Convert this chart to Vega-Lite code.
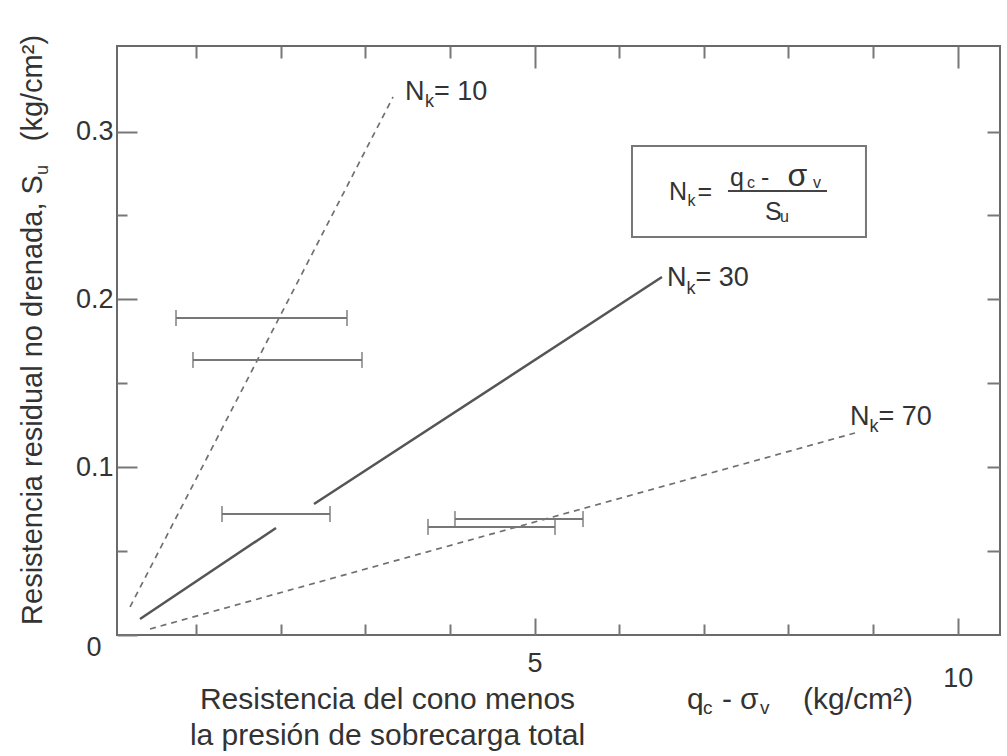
{
  "$schema": "https://vega.github.io/schema/vega-lite/v6.json",
  "width": 883,
  "height": 589,
  "autosize": {"type": "none"},
  "padding": {"left": 117, "top": 46, "right": 7, "bottom": 121},
  "background": "white",
  "config": {
    "view": {"stroke": "#6a6a6a", "strokeWidth": 2},
    "axis": {"domain": false, "grid": false, "labelFont": "Liberation Sans", "labelFontSize": 27, "labelColor": "#333333", "tickColor": "#777777", "tickWidth": 2},
    "text": {"font": "Liberation Sans", "color": "#333333"}
  },
  "datasets": {
    "lines": [
      {"series": "N10", "seg": "a", "x": 0.219, "y": 0.0167},
      {"series": "N10", "seg": "a", "x": 3.327, "y": 0.3206},
      {"series": "N30", "seg": "a", "x": 0.337, "y": 0.0095},
      {"series": "N30", "seg": "a", "x": 1.944, "y": 0.0638},
      {"series": "N30", "seg": "b", "x": 2.393, "y": 0.0781},
      {"series": "N30", "seg": "b", "x": 6.505, "y": 0.2133},
      {"series": "N70", "seg": "a", "x": 0.455, "y": 0.0036},
      {"series": "N70", "seg": "a", "x": 8.786, "y": 0.1204}
    ],
    "bars": [
      {"lo": 0.762, "hi": 2.783, "y": 0.1889},
      {"lo": 0.963, "hi": 2.96, "y": 0.1639},
      {"lo": 1.306, "hi": 2.582, "y": 0.0721},
      {"lo": 4.059, "hi": 5.572, "y": 0.0691},
      {"lo": 3.74, "hi": 5.241, "y": 0.0644}
    ],
    "box": [{"x1": 6.151, "x2": 8.916, "y1": 0.2914, "y2": 0.2372}],
    "frac": [{"x1": 7.285, "x2": 8.456, "y": 0.2646}],
    "texts": [
      {"kind": "nk", "x": 3.468, "y": 0.3188, "text": "N"},
      {"kind": "nk", "x": 3.811, "y": 0.3188, "text": "= 10"},
      {"kind": "nk", "x": 6.565, "y": 0.208, "text": "N"},
      {"kind": "nk", "x": 6.901, "y": 0.208, "text": "= 30"},
      {"kind": "nk", "x": 8.727, "y": 0.1251, "text": "N"},
      {"kind": "nk", "x": 9.064, "y": 0.1251, "text": "= 70"},
      {"kind": "nk_sub", "x": 3.705, "y": 0.3147, "text": "k"},
      {"kind": "nk_sub", "x": 6.795, "y": 0.2032, "text": "k"},
      {"kind": "nk_sub", "x": 8.958, "y": 0.121, "text": "k"},
      {"kind": "f", "x": 6.588, "y": 0.2592, "text": "N"},
      {"kind": "f", "x": 6.924, "y": 0.2592, "text": "="},
      {"kind": "f", "x": 7.309, "y": 0.2676, "text": "q"},
      {"kind": "f", "x": 7.675, "y": 0.2676, "text": "-"},
      {"kind": "f_sym", "x": 7.99, "y": 0.2676, "text": "σ"},
      {"kind": "f", "x": 7.723, "y": 0.2473, "text": "S"},
      {"kind": "f_sub", "x": 6.806, "y": 0.2557, "text": "k"},
      {"kind": "f_sub", "x": 7.51, "y": 0.2664, "text": "c"},
      {"kind": "f_sub", "x": 8.29, "y": 0.2664, "text": "v"},
      {"kind": "f_sub", "x": 7.9, "y": 0.2461, "text": "u"},
      {"kind": "xt_c", "x": 3.262, "y": -0.0441, "text": "Resistencia del cono menos"},
      {"kind": "xt_c", "x": 3.262, "y": -0.0656, "text": "la presión de sobrecarga total"},
      {"kind": "xt", "x": 6.801, "y": -0.0441, "text": "q"},
      {"kind": "xt", "x": 7.214, "y": -0.0441, "text": "-"},
      {"kind": "xt", "x": 7.428, "y": -0.0441, "text": "σ"},
      {"kind": "xt", "x": 8.172, "y": -0.0441, "text": "(kg/cm²)"},
      {"kind": "xt_sub", "x": 6.99, "y": -0.0471, "text": "c"},
      {"kind": "xt_sub", "x": 7.664, "y": -0.0471, "text": "v"},
      {"kind": "yt", "x": -0.821, "y": 0.006, "text": "Resistencia residual no drenada, S"},
      {"kind": "yt_sub", "x": -0.75, "y": 0.2741, "text": "u"},
      {"kind": "yt_end", "x": -0.821, "y": 0.3576, "text": "(kg/cm²)"}
    ]
  },
  "layer": [
    {
      "data": {"name": "lines"},
      "transform": [{"filter": "datum.series == 'N30'"}],
      "mark": {"type": "line", "color": "#555555", "strokeWidth": 2.5},
      "encoding": {
        "x": {"field": "x", "type": "quantitative", "scale": {"domain": [0.065, 10.5], "nice": false, "zero": false},
          "axis": {"orient": "bottom", "title": null, "values": [1, 2, 3, 4, 5, 6, 7, 8, 9, 10],
            "labelExpr": "datum.value == 5 || datum.value == 10 ? datum.label : ''",
            "labelFlush": false, "labelOverlap": false,
            "tickSize": {"condition": {"test": "datum.value == 5 || datum.value == 10", "value": -17}, "value": -11},
            "labelPadding": {"condition": {"test": "datum.value == 10", "value": 47}, "value": 32}}},
        "y": {"field": "y", "type": "quantitative", "scale": {"domain": [0, 0.351], "nice": false, "zero": false},
          "axis": {"orient": "left", "title": null, "values": [0, 0.05, 0.1, 0.15, 0.2, 0.25, 0.3],
            "labelExpr": "datum.value == 0 ? '0' : (abs(datum.value*10 - round(datum.value*10)) < 0.001 ? format(datum.value, '.1f') : '')",
            "labelFlush": false, "labelOverlap": false,
            "tickSize": {"condition": {"test": "abs(datum.value*10 - round(datum.value*10)) < 0.001", "value": -20}, "value": -10},
            "labelPadding": {"condition": {"test": "datum.value == 0", "value": 36}, "value": 24},
            "labelOffset": {"condition": {"test": "datum.value == 0", "value": 12}, "value": 0}}},
        "detail": {"field": "seg"}
      }
    },
    {
      "data": {"name": "lines"},
      "transform": [{"filter": "datum.series != 'N30'"}],
      "mark": {"type": "line", "color": "#707070", "strokeWidth": 1.7, "strokeDash": [6, 5]},
      "encoding": {
        "x": {"field": "x", "type": "quantitative", "scale": {"domain": [0.065, 10.5], "nice": false, "zero": false}, "axis": null},
        "y": {"field": "y", "type": "quantitative", "scale": {"domain": [0, 0.351], "nice": false, "zero": false}, "axis": null},
        "detail": {"field": "series"}
      }
    },
    {
      "data": {"name": "bars"},
      "mark": {"type": "errorbar", "color": "#777777", "thickness": 2, "ticks": {"size": 16, "thickness": 2, "color": "#777777"}},
      "encoding": {
        "x": {"field": "lo", "type": "quantitative", "scale": {"domain": [0.065, 10.5], "nice": false, "zero": false}, "axis": null},
        "x2": {"field": "hi"},
        "y": {"field": "y", "type": "quantitative", "scale": {"domain": [0, 0.351], "nice": false, "zero": false}, "axis": null}
      }
    },
    {
      "data": {"name": "box"},
      "mark": {"type": "rect", "fill": "white", "stroke": "#777777", "strokeWidth": 2},
      "encoding": {
        "x": {"field": "x1", "type": "quantitative", "scale": {"domain": [0.065, 10.5], "nice": false, "zero": false},
          "axis": {"orient": "top", "title": null, "labels": false, "values": [1, 2, 3, 4, 5, 6, 7, 8, 9, 10],
            "tickSize": {"condition": {"test": "datum.value == 5 || datum.value == 10", "value": -22}, "value": -12}}},
        "x2": {"field": "x2"},
        "y": {"field": "y1", "type": "quantitative", "scale": {"domain": [0, 0.351], "nice": false, "zero": false},
          "axis": {"orient": "right", "title": null, "labels": false, "values": [0.05, 0.1, 0.15, 0.2, 0.25, 0.3], "tickSize": -13}},
        "y2": {"field": "y2"}
      }
    },
    {
      "data": {"name": "frac"},
      "mark": {"type": "rule", "color": "#444444", "strokeWidth": 2},
      "encoding": {
        "x": {"field": "x1", "type": "quantitative", "scale": {"domain": [0.065, 10.5], "nice": false, "zero": false}, "axis": null},
        "x2": {"field": "x2"},
        "y": {"field": "y", "type": "quantitative", "scale": {"domain": [0, 0.351], "nice": false, "zero": false}, "axis": null}
      }
    },
    {
      "data": {"name": "texts"},
      "transform": [{"filter": "datum.kind == 'nk'"}],
      "mark": {"type": "text", "fontSize": 27, "align": "left", "baseline": "alphabetic"},
      "encoding": {
        "x": {"field": "x", "type": "quantitative", "scale": {"domain": [0.065, 10.5], "nice": false, "zero": false}, "axis": null},
        "y": {"field": "y", "type": "quantitative", "scale": {"domain": [0, 0.351], "nice": false, "zero": false}, "axis": null},
        "text": {"field": "text"}
      }
    },
    {
      "data": {"name": "texts"},
      "transform": [{"filter": "datum.kind == 'nk_sub'"}],
      "mark": {"type": "text", "fontSize": 18, "align": "left", "baseline": "alphabetic"},
      "encoding": {
        "x": {"field": "x", "type": "quantitative", "scale": {"domain": [0.065, 10.5], "nice": false, "zero": false}, "axis": null},
        "y": {"field": "y", "type": "quantitative", "scale": {"domain": [0, 0.351], "nice": false, "zero": false}, "axis": null},
        "text": {"field": "text"}
      }
    },
    {
      "data": {"name": "texts"},
      "transform": [{"filter": "datum.kind == 'f'"}],
      "mark": {"type": "text", "fontSize": 25, "align": "left", "baseline": "alphabetic"},
      "encoding": {
        "x": {"field": "x", "type": "quantitative", "scale": {"domain": [0.065, 10.5], "nice": false, "zero": false}, "axis": null},
        "y": {"field": "y", "type": "quantitative", "scale": {"domain": [0, 0.351], "nice": false, "zero": false}, "axis": null},
        "text": {"field": "text"}
      }
    },
    {
      "data": {"name": "texts"},
      "transform": [{"filter": "datum.kind == 'f_sym'"}],
      "mark": {"type": "text", "fontSize": 32, "align": "left", "baseline": "alphabetic"},
      "encoding": {
        "x": {"field": "x", "type": "quantitative", "scale": {"domain": [0.065, 10.5], "nice": false, "zero": false}, "axis": null},
        "y": {"field": "y", "type": "quantitative", "scale": {"domain": [0, 0.351], "nice": false, "zero": false}, "axis": null},
        "text": {"field": "text"}
      }
    },
    {
      "data": {"name": "texts"},
      "transform": [{"filter": "datum.kind == 'f_sub'"}],
      "mark": {"type": "text", "fontSize": 16, "align": "left", "baseline": "alphabetic"},
      "encoding": {
        "x": {"field": "x", "type": "quantitative", "scale": {"domain": [0.065, 10.5], "nice": false, "zero": false}, "axis": null},
        "y": {"field": "y", "type": "quantitative", "scale": {"domain": [0, 0.351], "nice": false, "zero": false}, "axis": null},
        "text": {"field": "text"}
      }
    },
    {
      "data": {"name": "texts"},
      "transform": [{"filter": "datum.kind == 'xt_c'"}],
      "mark": {"type": "text", "fontSize": 30, "align": "center", "baseline": "alphabetic"},
      "encoding": {
        "x": {"field": "x", "type": "quantitative", "scale": {"domain": [0.065, 10.5], "nice": false, "zero": false}, "axis": null},
        "y": {"field": "y", "type": "quantitative", "scale": {"domain": [0, 0.351], "nice": false, "zero": false}, "axis": null},
        "text": {"field": "text"}
      }
    },
    {
      "data": {"name": "texts"},
      "transform": [{"filter": "datum.kind == 'xt'"}],
      "mark": {"type": "text", "fontSize": 30, "align": "left", "baseline": "alphabetic"},
      "encoding": {
        "x": {"field": "x", "type": "quantitative", "scale": {"domain": [0.065, 10.5], "nice": false, "zero": false}, "axis": null},
        "y": {"field": "y", "type": "quantitative", "scale": {"domain": [0, 0.351], "nice": false, "zero": false}, "axis": null},
        "text": {"field": "text"}
      }
    },
    {
      "data": {"name": "texts"},
      "transform": [{"filter": "datum.kind == 'xt_sub'"}],
      "mark": {"type": "text", "fontSize": 19, "align": "left", "baseline": "alphabetic"},
      "encoding": {
        "x": {"field": "x", "type": "quantitative", "scale": {"domain": [0.065, 10.5], "nice": false, "zero": false}, "axis": null},
        "y": {"field": "y", "type": "quantitative", "scale": {"domain": [0, 0.351], "nice": false, "zero": false}, "axis": null},
        "text": {"field": "text"}
      }
    },
    {
      "data": {"name": "texts"},
      "transform": [{"filter": "datum.kind == 'yt'"}],
      "mark": {"type": "text", "fontSize": 29, "align": "left", "baseline": "alphabetic", "angle": 270},
      "encoding": {
        "x": {"field": "x", "type": "quantitative", "scale": {"domain": [0.065, 10.5], "nice": false, "zero": false}, "axis": null},
        "y": {"field": "y", "type": "quantitative", "scale": {"domain": [0, 0.351], "nice": false, "zero": false}, "axis": null},
        "text": {"field": "text"}
      }
    },
    {
      "data": {"name": "texts"},
      "transform": [{"filter": "datum.kind == 'yt_sub'"}],
      "mark": {"type": "text", "fontSize": 18, "align": "left", "baseline": "alphabetic", "angle": 270},
      "encoding": {
        "x": {"field": "x", "type": "quantitative", "scale": {"domain": [0.065, 10.5], "nice": false, "zero": false}, "axis": null},
        "y": {"field": "y", "type": "quantitative", "scale": {"domain": [0, 0.351], "nice": false, "zero": false}, "axis": null},
        "text": {"field": "text"}
      }
    },
    {
      "data": {"name": "texts"},
      "transform": [{"filter": "datum.kind == 'yt_end'"}],
      "mark": {"type": "text", "fontSize": 29, "align": "right", "baseline": "alphabetic", "angle": 270},
      "encoding": {
        "x": {"field": "x", "type": "quantitative", "scale": {"domain": [0.065, 10.5], "nice": false, "zero": false}, "axis": null},
        "y": {"field": "y", "type": "quantitative", "scale": {"domain": [0, 0.351], "nice": false, "zero": false}, "axis": null},
        "text": {"field": "text"}
      }
    }
  ],
  "resolve": {"axis": {"x": "independent", "y": "independent"}}
}
